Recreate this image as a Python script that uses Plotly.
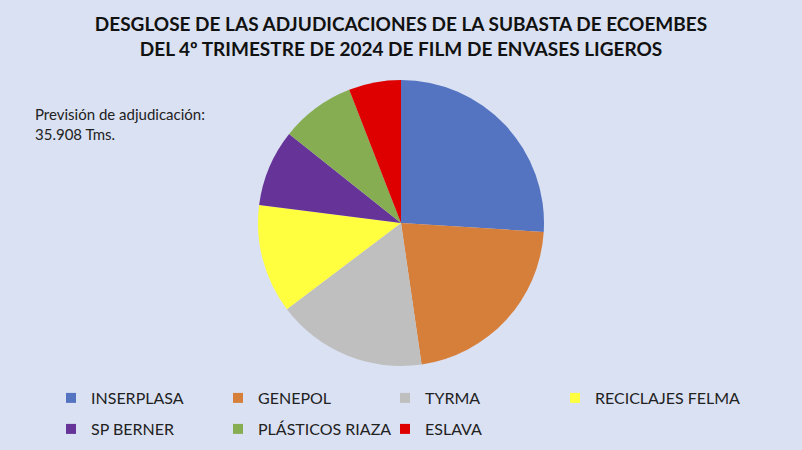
import plotly.graph_objects as go

labels = ["INSERPLASA", "GENEPOL", "TYRMA", "RECICLAJES FELMA", "SP BERNER", "PLÁSTICOS RIAZA", "ESLAVA"]
values = [26.0, 21.7, 17.0, 12.3, 8.7, 8.4, 5.9]
colors = ["#5473C1", "#D67F3B", "#BFBFBF", "#FFFF3F", "#663399", "#86AD52", "#DE0000"]
legend_rows = ["legend", "legend", "legend", "legend2", "legend3", "legend3", "legend3"]

title_text = "DESGLOSE DE LAS ADJUDICACIONES DE LA SUBASTA DE ECOEMBES<br>DEL 4º TRIMESTRE DE 2024 DE FILM DE ENVASES LIGEROS"
note_text = "Previsión de adjudicación:<br>35.908 Tms."

BG = "#DAE1F2"
FONT = "Lato"
W, H = 802, 450

fig = go.Figure()
fig.add_trace(go.Pie(
    labels=labels,
    values=values,
    sort=False,
    direction="clockwise",
    rotation=0,
    textinfo="none",
    showlegend=False,
    marker=dict(colors=colors, line=dict(width=0)),
    domain=dict(x=[258/W, 544/W], y=[1-366/H, 1-80/H]),
))

# legend entries (one per slice), split across legends to reproduce the column layout
for lab, col, lg in zip(labels, colors, legend_rows):
    fig.add_trace(go.Scatter(
        x=[None], y=[None], mode="markers", name=lab,
        marker=dict(symbol="square", size=10, color=col),
        legend=lg, hoverinfo="skip",
    ))

legend_font = dict(family=FONT, size=16, color="#222222")
common = dict(orientation="h", xanchor="left", yanchor="top", font=legend_font,
              itemwidth=30, bgcolor="rgba(0,0,0,0)")
fig.update_layout(
    width=W, height=H,
    margin=dict(l=0, r=0, t=0, b=0, autoexpand=False),
    paper_bgcolor=BG, plot_bgcolor=BG,
    font=dict(family=FONT, color="#1a1a1a"),
    xaxis=dict(visible=False), yaxis=dict(visible=False),
    title=dict(text="<b>" + title_text + "</b>", x=0.5, xanchor="center", xref="container",
               y=1 - 31/H, yanchor="middle",
               font=dict(family=FONT, size=19, color="#111111")),
    legend=dict(x=51/W, y=1 - 381/H, entrywidth=122, **common),
    legend2=dict(x=555/W, y=1 - 381/H, **common),
    legend3=dict(x=51/W, y=1 - 412/H, entrywidth=122, **common),
    annotations=[dict(text=note_text, x=33/W, y=1 - 103/H, xref="paper", yref="paper",
                      xanchor="left", yanchor="top", align="left", showarrow=False,
                      font=dict(family=FONT, size=15, color="#222222"))],
)

fig.write_html("out.html", config={"displayModeBar": False},
               post_script="document.body.style.margin='0';document.body.style.background='%s';" % BG)
